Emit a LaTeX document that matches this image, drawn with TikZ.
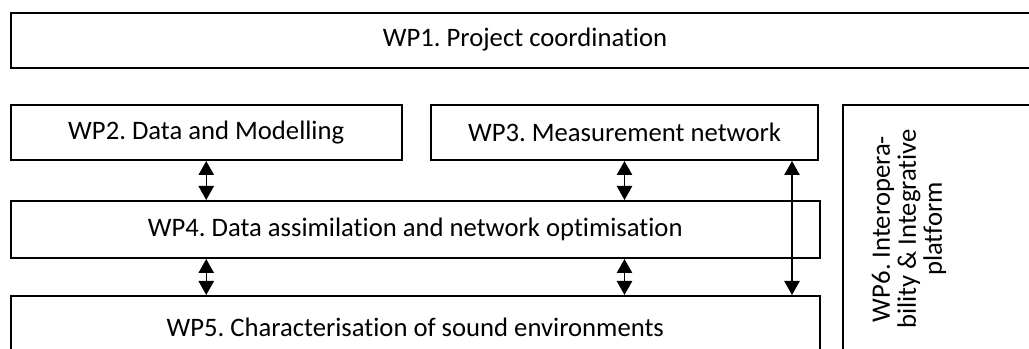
\documentclass[tikz,border=0pt]{standalone}
\usepackage{fontspec}
\setmainfont{Carlito}[Ligatures=NoCommon]
\usetikzlibrary{arrows.meta,positioning}
\frenchspacing

\begin{document}
\begin{tikzpicture}[x=0.75pt, y=-0.75pt, >={Triangle[width=11.5pt,length=10.5pt]},
    wpbox/.style={draw, line width=1.5pt, inner sep=0pt, anchor=north west},
    wptext/.style={font=\fontsize{20}{19.5}\selectfont, inner sep=0pt},
    link/.style={<->, line width=1pt}]
    % page frame (boxes on the right run past the edge)
    \useasboundingbox (0,0) rectangle (1029,349);
    \clip (0,0) rectangle (1029,349);

    % top row
    \node[wpbox, minimum width=788pt, minimum height=41.25pt] (wp1) at (9.5,12) {};
    \node[wptext] (wp1text) at (525,39.5) {WP1. Project coordination};

    % work packages
    \node[wpbox, wptext, minimum width=293.6pt, minimum height=41.25pt] (wp2) at (9.5,104) {WP2. Data and Modelling};
    \node[wpbox, wptext, minimum width=290.25pt, minimum height=41.25pt] (wp3) at (430,104) {WP3. Measurement network};
    \node[wpbox, wptext, minimum width=607.1pt, minimum height=42.75pt] (wp4) at (9.5,200) {WP4. Data assimilation and network optimisation};
    \node[wpbox, wptext, minimum width=607.1pt, minimum height=46.5pt] (wp5) at (9.5,295) {WP5. Characterisation of sound environments};

    % side platform
    \node[wpbox, minimum width=187.5pt, minimum height=225pt] (wp6) at (842,104) {};
    \node[wptext, rotate=90, align=center] (wp6text) at (909,229) {WP6. Interopera-\\bility \& Integrative\\platform};

    % links
    \draw[link] (wp2.south) -- (wp2.south |- wp4.north);
    \draw[link] (wp3.south) -- (wp3.south |- wp4.north);
    \draw[link] (wp2.south |- wp4.south) -- (wp2.south |- wp5.north);
    \draw[link] (wp3.south |- wp4.south) -- (wp3.south |- wp5.north);
    \coordinate (tap) at ([xshift=-20.25pt]wp3.south east);
    \draw[link] (tap) -- (tap |- wp5.north);
\end{tikzpicture}
\end{document}
